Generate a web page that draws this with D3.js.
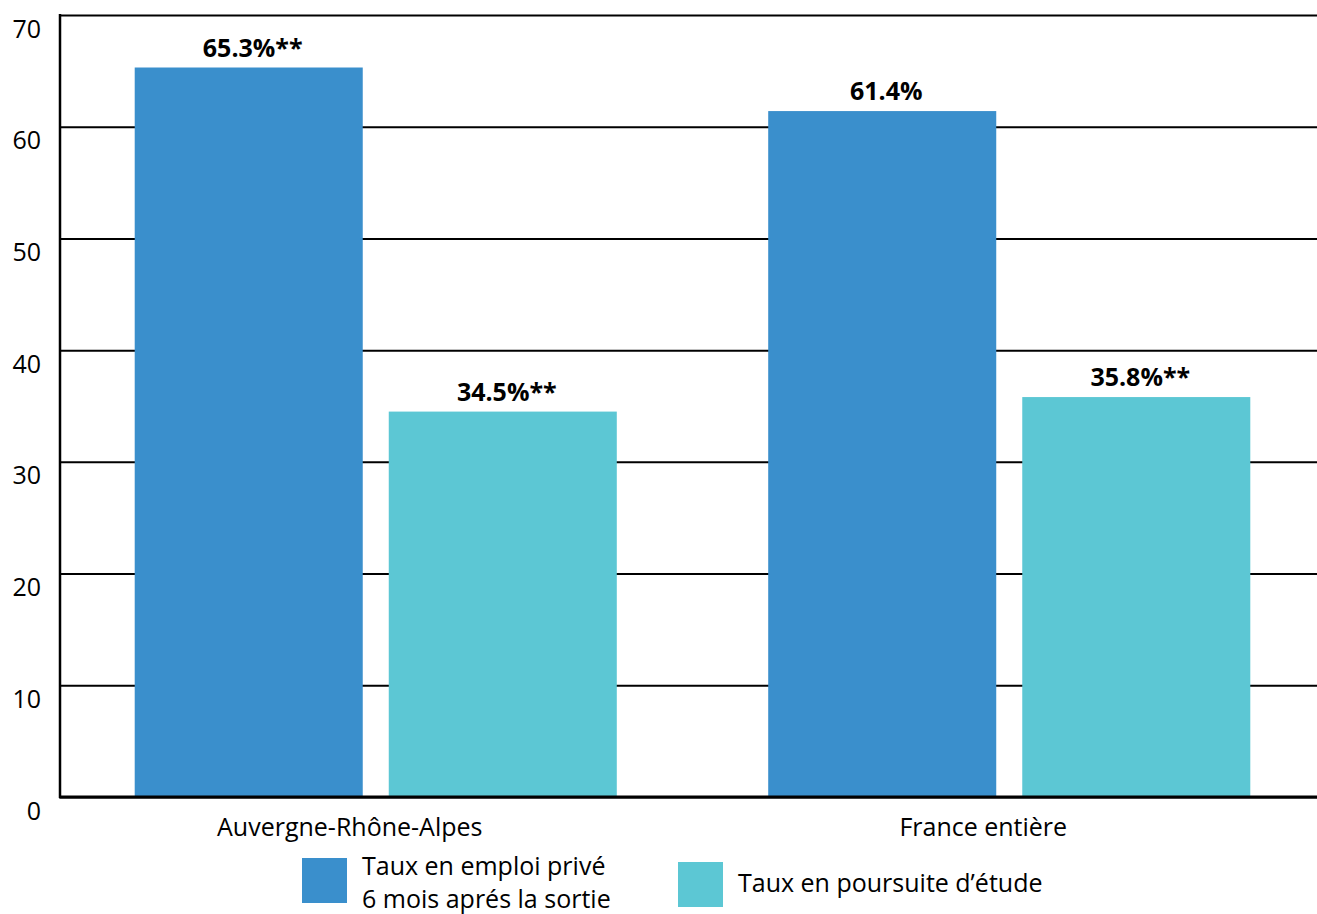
<!DOCTYPE html>
<html>
<head>
<meta charset="utf-8">
<script src="https://cdn.jsdelivr.net/npm/d3@7"></script>
<style>
  html, body { margin: 0; padding: 0; background: #ffffff; }
  svg { display: block; font-family: "Open Sans", "Noto Sans", sans-serif; }
</style>
</head>
<body>
<svg id="chart" width="1317" height="914"></svg>
<script>
// Regions compared
const categories = ["Auvergne-Rhône-Alpes", "France entière"];
// Series
const seriesNames = ["Taux en emploi privé\n6 mois aprés la sortie", "Taux en poursuite d’étude"];
const emploiValues = [65.3, 61.4];
const poursuiteValues = [34.5, 35.8];
const emploiLabels = ["65.3%**", "61.4%"];
const poursuiteLabels = ["34.5%**", "35.8%**"];
const yTicks = [0, 10, 20, 30, 40, 50, 60, 70];
const colors = ["#3a8fcc", "#5cc7d4"];

const svg = d3.select("#chart");
const plot = { left: 60, right: 1317, top: 15, bottom: 797 };

const y = d3.scaleLinear().domain([0, 70]).range([plot.bottom, plot.top]);
const x0 = d3.scaleBand().domain(categories).range([59, 1326]).paddingInner(0).paddingOuter(0);
const x1 = d3.scaleBand().domain([0, 1]).range([0, x0.bandwidth()])
  .paddingInner(0.1024).paddingOuter(0.298);

// Horizontal gridlines and y labels
const yAxis = d3.axisLeft(y).tickValues(yTicks).tickSize(-(plot.right - plot.left)).tickFormat(d3.format("d"));
const gy = svg.append("g").attr("transform", `translate(${plot.left},0)`).call(yAxis);
gy.select(".domain").remove();
gy.selectAll(".tick line").attr("stroke", "#000").attr("stroke-width", 2);
gy.selectAll(".tick text")
  .attr("x", -19).attr("dy", "0.88em")
  .attr("fill", "#000").style("font-size", "25px")
  .style("font-family", "'Open Sans', 'Noto Sans', sans-serif");

// Bars
const rows = categories.map((c, i) => ({
  cat: c,
  vals: [
    { k: 0, v: emploiValues[i], label: emploiLabels[i] },
    { k: 1, v: poursuiteValues[i], label: poursuiteLabels[i] }
  ]
}));

const groups = svg.append("g").selectAll("g").data(rows).join("g")
  .attr("transform", d => `translate(${x0(d.cat)},0)`);

groups.selectAll("rect").data(d => d.vals).join("rect")
  .attr("x", d => x1(d.k))
  .attr("width", x1.bandwidth())
  .attr("y", d => y(d.v))
  .attr("height", d => y(0) - y(d.v))
  .attr("fill", d => colors[d.k]);

groups.selectAll("text.val").data(d => d.vals).join("text")
  .attr("class", "val")
  .attr("x", d => x1(d.k) + x1.bandwidth() / 2 + 4)
  .attr("y", d => y(d.v) - 11)
  .attr("text-anchor", "middle")
  .attr("font-weight", "bold")
  .attr("font-size", "25px")
  .attr("fill", "#000")
  .text(d => d.label);

// Axis lines
svg.append("line").attr("x1", plot.left).attr("x2", plot.left).attr("y1", plot.top - 1).attr("y2", plot.bottom + 1)
  .attr("stroke", "#000").attr("stroke-width", 2.5);
svg.append("line").attr("x1", plot.left - 1).attr("x2", plot.right).attr("y1", plot.bottom).attr("y2", plot.bottom)
  .attr("stroke", "#000").attr("stroke-width", 3);

// Category labels
svg.append("g").selectAll("text").data(categories).join("text")
  .attr("x", d => x0(d) + x0.bandwidth() / 2 - 26)
  .attr("y", 836)
  .attr("text-anchor", "middle")
  .attr("font-size", "25px")
  .attr("fill", "#000")
  .text(d => d);

// Legend
const legendPos = [{ x: 302, y: 858 }, { x: 678, y: 862 }];
const legend = svg.append("g").selectAll("g").data(seriesNames).join("g")
  .attr("transform", (d, i) => `translate(${legendPos[i].x},${legendPos[i].y})`);
legend.append("rect").attr("width", 45).attr("height", 45).attr("fill", (d, i) => colors[i]);
legend.each(function (d) {
  const lines = d.split("\n");
  const t = d3.select(this).append("text").attr("x", 60).attr("font-size", "25px").attr("fill", "#000");
  lines.forEach((ln, j) => {
    t.append("tspan").attr("x", 60)
      .attr("y", lines.length === 1 ? 30 : 17 + j * 33)
      .text(ln);
  });
});
</script>
</body>
</html>
